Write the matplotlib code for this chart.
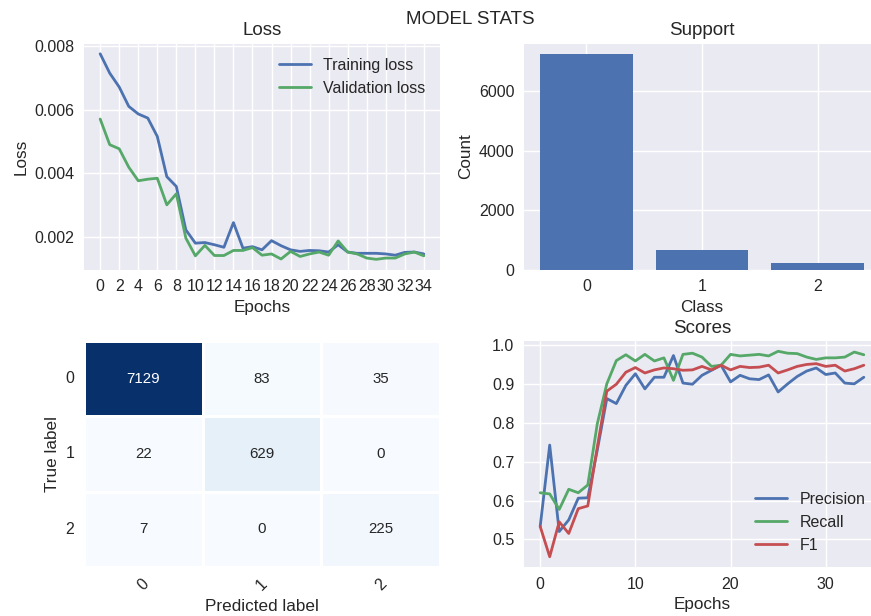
import matplotlib
matplotlib.use("Agg")
import matplotlib.pyplot as plt
import numpy as np
import seaborn as sns

plt.style.use("seaborn-v0_8")
plt.rcParams["font.family"] = ["Liberation Sans", "DejaVu Sans"]
plt.rcParams.update({
    "xtick.labelsize": 11.5,
    "ytick.labelsize": 11.5,
    "axes.labelsize": 12.3,
    "axes.titlesize": 13.5,
    "legend.fontsize": 11.5,
    "lines.linewidth": 2.0,
})

BLUE, GREEN, RED = "#4C72B0", "#55A868", "#C44E52"

epochs = list(range(35))
train_loss = [0.00777, 0.00716, 0.00672, 0.00611, 0.00587, 0.00574, 0.00516, 0.00389,
              0.00358, 0.00221, 0.00179, 0.00181, 0.00174, 0.00166, 0.00244, 0.00163,
              0.00168, 0.00158, 0.00187, 0.00171, 0.00158, 0.00153, 0.00156, 0.00155,
              0.00151, 0.00174, 0.00151, 0.00147, 0.00147, 0.00147, 0.00145, 0.00141,
              0.00150, 0.00151, 0.00145]
val_loss = [0.00571, 0.00490, 0.00477, 0.00419, 0.00376, 0.00381, 0.00384, 0.00300,
            0.00335, 0.00195, 0.00139, 0.00172, 0.00140, 0.00140, 0.00156, 0.00156,
            0.00165, 0.00141, 0.00145, 0.00129, 0.00153, 0.00137, 0.00145, 0.00151,
            0.00141, 0.00186, 0.00151, 0.00145, 0.00132, 0.00128, 0.00132, 0.00132,
            0.00145, 0.00151, 0.00139]

precision = [0.533, 0.743, 0.520, 0.550, 0.606, 0.607, 0.730, 0.863, 0.850, 0.897,
             0.927, 0.888, 0.918, 0.918, 0.974, 0.903, 0.900, 0.923, 0.936, 0.949,
             0.906, 0.923, 0.914, 0.912, 0.924, 0.880, 0.901, 0.920, 0.934, 0.942,
             0.925, 0.929, 0.903, 0.901, 0.918]
recall = [0.620, 0.617, 0.577, 0.629, 0.620, 0.640, 0.798, 0.901, 0.961, 0.976,
          0.960, 0.977, 0.960, 0.968, 0.910, 0.977, 0.980, 0.970, 0.946, 0.949,
          0.977, 0.973, 0.975, 0.977, 0.973, 0.985, 0.980, 0.979, 0.970, 0.964,
          0.968, 0.968, 0.970, 0.983, 0.976]
f1 = [0.533, 0.455, 0.545, 0.515, 0.579, 0.586, 0.738, 0.882, 0.900, 0.931,
      0.943, 0.929, 0.937, 0.942, 0.940, 0.936, 0.937, 0.946, 0.937, 0.949,
      0.937, 0.946, 0.943, 0.944, 0.949, 0.929, 0.937, 0.946, 0.951, 0.953,
      0.946, 0.949, 0.934, 0.940, 0.949]

classes = ["0", "1", "2"]
confusion = np.array([[7129, 83, 35],
                      [22, 629, 0],
                      [7, 0, 225]])
support = confusion.sum(axis=1)

fig = plt.figure(figsize=(8.71, 6.16), dpi=100)
W, H = 871.0, 616.0
def box(l, t, r, b):
    return [l / W, 1 - b / H, (r - l) / W, (b - t) / H]

ax_loss = fig.add_axes(box(84, 43.5, 440, 269.6))
ax_sup = fig.add_axes(box(524, 43.5, 880, 269.6))
ax_cm = fig.add_axes(box(84, 341, 440, 567))
ax_sc = fig.add_axes(box(524, 341, 880, 567))

# Loss curves
ax_loss.plot(epochs, train_loss, color=BLUE, label="Training loss")
ax_loss.plot(epochs, val_loss, color=GREEN, label="Validation loss")
ax_loss.set_xticks(epochs[::2])
ax_loss.set_yticks([0.002, 0.004, 0.006, 0.008])
ax_loss.set_title("Loss")
ax_loss.set_xlabel("Epochs")
ax_loss.set_ylabel("Loss")
ax_loss.legend(loc="upper right")

# Class support
ax_sup.bar(range(len(classes)), support, color=BLUE)
ax_sup.set_xticks(range(len(classes)))
ax_sup.set_xticklabels(classes)
ax_sup.set_yticks([0, 2000, 4000, 6000])
ax_sup.set_title("Support")
ax_sup.set_xlabel("Class")
ax_sup.set_ylabel("Count")

# Confusion matrix
sns.heatmap(confusion, annot=True, fmt="d", cmap="Blues", cbar=False,
            linewidths=1, linecolor="white", ax=ax_cm,
            xticklabels=classes, yticklabels=classes,
            annot_kws={"fontsize": 10.8})
ax_cm.set_xticklabels(classes, rotation=45)
ax_cm.set_yticklabels(classes, rotation=0)
ax_cm.set_xlabel("Predicted label")
ax_cm.set_ylabel("True label")

# Scores
ax_sc.plot(epochs, precision, color=BLUE, label="Precision")
ax_sc.plot(epochs, recall, color=GREEN, label="Recall")
ax_sc.plot(epochs, f1, color=RED, label="F1")
ax_sc.set_title("Scores")
ax_sc.set_xlabel("Epochs")
ax_sc.legend(loc="lower right")

fig.text(470 / W, 1 - 19 / H, "MODEL STATS", ha="center", va="center", fontsize=13.5)

fig.savefig("out.png", dpi=100)
